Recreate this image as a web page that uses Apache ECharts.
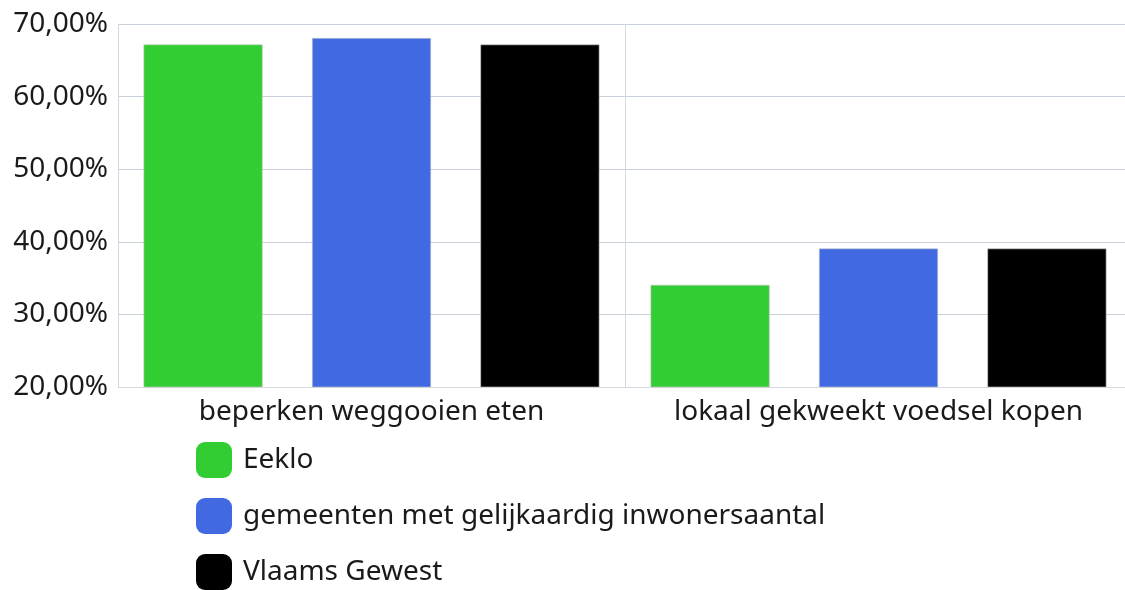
<!DOCTYPE html>
<html><head><meta charset="utf-8">
<script src="https://cdn.jsdelivr.net/npm/echarts@6/dist/echarts.min.js"></script>
<style>html,body{margin:0;padding:0;background:#fff}#c{width:1125px;height:590px}</style>
</head><body><div id="c"></div>
<script>
const categories = ['beperken weggooien eten', 'lokaal gekweekt voedsel kopen'];
const seriesNames = ['Eeklo', 'gemeenten met gelijkaardig inwonersaantal', 'Vlaams Gewest'];
const eeklo = [67.2, 34.1];
const gelijkaardig = [68.1, 39.1];
const vlaams = [67.2, 39.1];
const colors = ['#32cd32', '#4169e1', '#000000'];
const font = '"Noto Sans", "Open Sans", sans-serif';
const chart = echarts.init(document.getElementById('c'));
const mk = (name, data, i) => ({
  name, type: 'bar', data, barGap: '41%', barCategoryGap: '10%',
  itemStyle: { color: colors[i], borderColor: 'rgba(200,200,200,0.6)', borderWidth: 1 }
});
chart.setOption({
  animation: false,
  textStyle: { fontFamily: font },
  grid: { left: 118, width: 1014, top: 24, bottom: 203, containLabel: false, outerBoundsMode: 'none' },
  legend: {
    orient: 'vertical', left: 191, top: 437, height: 160, itemWidth: 36, itemHeight: 36, itemGap: 20,
    icon: 'roundRect', itemStyle: { borderWidth: 0 },
    textStyle: { fontSize: 28, color: '#1a1a1a', fontFamily: font, padding: [0, 0, 0, 6] },
    data: seriesNames
  },
  xAxis: {
    type: 'category', data: categories,
    axisLine: { lineStyle: { color: '#d5dae2' } }, axisTick: { show: false },
    splitLine: { show: true, interval: 0, lineStyle: { color: '#d5dae2' } },
    axisLabel: { fontSize: 28, color: '#1a1a1a', margin: 11, interval: 0, hideOverlap: false }
  },
  yAxis: {
    type: 'value', min: 20, max: 70, interval: 10,
    axisLine: { show: true, lineStyle: { color: '#d5dae2' } },
    splitLine: { lineStyle: { color: '#c8d0dc' } },
    axisLabel: { fontSize: 28, color: '#1a1a1a', margin: 10,
      formatter: v => v.toFixed(2).replace('.', ',') + '%' }
  },
  series: [mk(seriesNames[0], eeklo, 0), mk(seriesNames[1], gelijkaardig, 1), mk(seriesNames[2], vlaams, 2)]
});
</script></body></html>
